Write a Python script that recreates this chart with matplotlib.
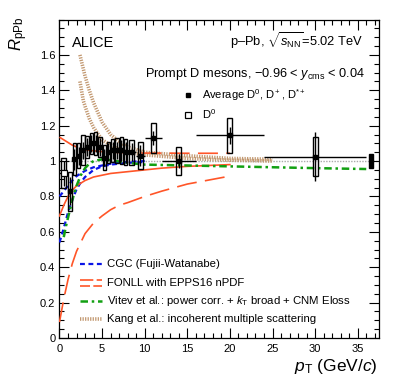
import numpy as np
import matplotlib
matplotlib.use("Agg")
import matplotlib.pyplot as plt
from matplotlib.patches import Rectangle
from matplotlib.ticker import MultipleLocator

plt.rcParams['font.family'] = ['Liberation Sans', 'DejaVu Sans']
plt.rcParams['mathtext.fontset'] = 'custom'
plt.rcParams['mathtext.rm'] = 'Liberation Sans'
plt.rcParams['mathtext.it'] = 'Liberation Sans:italic'
plt.rcParams['mathtext.bf'] = 'Liberation Sans:bold'

# ---------------- data ----------------
# Average D0, D+, D*+
avg_lo = [1, 1.5, 2, 2.5, 3, 3.5, 4, 4.5, 5, 5.5, 6, 6.5, 7, 7.5, 8, 9, 10, 12, 16, 24]
avg_hi = [1.5, 2, 2.5, 3, 3.5, 4, 4.5, 5, 5.5, 6, 6.5, 7, 7.5, 8, 9, 10, 12, 16, 24, 36]
avg_r = [0.83, 1.01, 1.03, 1.06, 1.08, 1.10, 1.10, 1.08, 1.02, 1.05, 1.06, 1.06, 1.06,
         1.05, 1.05, 1.03, 1.13, 1.00, 1.145, 1.025]
avg_stat = [0.08, 0.06, 0.05, 0.05, 0.05, 0.05, 0.05, 0.05, 0.05, 0.05, 0.05, 0.05, 0.06,
            0.06, 0.05, 0.06, 0.04, 0.04, 0.05, 0.14]
avg_syst = [0.11, 0.09, 0.07, 0.085, 0.06, 0.06, 0.065, 0.055, 0.07, 0.06, 0.065, 0.07,
            0.075, 0.075, 0.07, 0.075, 0.085, 0.08, 0.10, 0.11]
# D0 only
d0_lo = [0]
d0_hi = [1]
d0_r = [0.93]
d0_stat = [0.07]
d0_syst = [0.085]
norm_unc = 0.04

# Models
cgc_pt = [0, 0.25, 0.5, 1, 1.5, 2, 2.5, 3, 4, 5, 6, 8, 10]
cgc_up = [0.80, 0.815, 0.83, 0.86, 0.89, 0.915, 0.93, 0.945, 0.965, 0.975, 0.985, 0.995, 1.0]
cgc_lo = [0.54, 0.58, 0.62, 0.71, 0.78, 0.84, 0.88, 0.91, 0.95, 0.97, 0.98, 0.99, 0.995]

fonll_pt = [0, 0.5, 1, 1.5, 2, 3, 4, 5, 6, 7, 8, 10, 12, 15, 20]
fonll_up = [1.135, 1.12, 1.105, 1.09, 1.08, 1.065, 1.058, 1.053, 1.05, 1.048, 1.047, 1.045,
            1.045, 1.044, 1.044]
fonll_c = [0.69, 0.75, 0.80, 0.835, 0.86, 0.89, 0.91, 0.92, 0.93, 0.935, 0.94, 0.95, 0.96,
           0.97, 0.98]
fonll_lo = [0.09, 0.22, 0.33, 0.42, 0.49, 0.59, 0.65, 0.69, 0.725, 0.75, 0.765, 0.80, 0.83,
            0.87, 0.915]

vitev_pt = [0.5, 0.75, 1, 1.5, 2, 2.5, 3, 3.5, 4, 5, 6, 8, 10, 15, 20, 30, 36]
vitev_r = [0.57, 0.63, 0.68, 0.78, 0.86, 0.92, 0.96, 0.985, 1.0, 1.01, 1.005, 0.99, 0.98,
           0.975, 0.97, 0.96, 0.955]

kang_pt = [2.4, 2.8, 3, 3.5, 4, 5, 6, 7, 8, 10, 15, 20, 25]
kang_up = [1.60, 1.52, 1.48, 1.40, 1.33, 1.22, 1.15, 1.11, 1.08, 1.05, 1.03, 1.015, 1.01]
kang_lo = [1.45, 1.34, 1.31, 1.24, 1.19, 1.12, 1.09, 1.065, 1.05, 1.035, 1.015, 1.005, 1.0]

# ---------------- figure ----------------
fig = plt.figure(figsize=(3.99, 3.87), dpi=100)
ax = fig.add_axes([0.1491, 0.1266, 0.8008, 0.823])
ax.set_xlim(0, 37.5)
ax.set_ylim(0, 1.8)

ax.axhline(1.0, color='#aaaaaa', lw=1.0, ls=(0, (1, 1)), zorder=1)

c_cgc = '#0a14e6'
c_fonll = '#ff5528'
c_vitev = '#12a012'
c_kang = '#c29870'

ax.plot(cgc_pt, cgc_up, color=c_cgc, lw=1.6, dashes=(2.2, 1.6), zorder=3)
ax.plot(cgc_pt, cgc_lo, color=c_cgc, lw=1.6, dashes=(2.2, 1.6), zorder=3)
ax.plot(fonll_pt, fonll_up, color=c_fonll, lw=1.2, dashes=(12, 5), zorder=3)
ax.plot(fonll_pt, fonll_c, color=c_fonll, lw=1.2, zorder=3)
ax.plot(fonll_pt, fonll_lo, color=c_fonll, lw=1.2, dashes=(12, 5), zorder=3)
ax.plot(vitev_pt, vitev_r, color=c_vitev, lw=1.8, dashes=(3, 1.5, 1, 1.5), zorder=3)
ax.plot(kang_pt, kang_up, color=c_kang, lw=2.6, dashes=(0.35, 0.35), zorder=2)
ax.plot(kang_pt, kang_lo, color=c_kang, lw=2.6, dashes=(0.35, 0.35), zorder=2)


def draw_points(lo, hi, r, stat, syst, filled):
    lo = np.asarray(lo, float)
    hi = np.asarray(hi, float)
    r = np.asarray(r, float)
    x = 0.5 * (lo + hi)
    for xi, l, h, ri, s in zip(x, lo, hi, r, syst):
        w = min(0.6, 0.8 * (h - l))
        ax.add_patch(Rectangle((xi - w / 2, ri - s), w, 2 * s, fill=False,
                               edgecolor='black', lw=1.0, zorder=4))
    ax.errorbar(x, r, yerr=stat, xerr=[x - lo, hi - x], fmt='none', ecolor='black',
                elinewidth=1.0, capsize=0, zorder=5)
    if filled:
        ax.plot(x, r, 's', color='black', ms=3.5, zorder=6)
    else:
        ax.plot(x, r, 's', mfc='white', mec='black', mew=0.9, ms=3.8, zorder=6)


draw_points(avg_lo, avg_hi, avg_r, avg_stat, avg_syst, True)
draw_points(d0_lo, d0_hi, d0_r, d0_stat, d0_syst, False)

ax.add_patch(Rectangle((36.3, 1 - norm_unc), 0.55, 2 * norm_unc, facecolor='black',
                       edgecolor='black', zorder=6))

# ticks
ax.xaxis.set_major_locator(MultipleLocator(5))
ax.xaxis.set_minor_locator(MultipleLocator(1))
ax.yaxis.set_major_locator(MultipleLocator(0.2))
ax.yaxis.set_minor_locator(MultipleLocator(0.05))
ax.tick_params(which='both', direction='in', top=True, right=True, labelsize=8)
ax.tick_params(which='major', length=7, width=0.8)
ax.tick_params(which='minor', length=3.5, width=0.8)
ax.tick_params(axis='x', pad=4)
ax.tick_params(axis='y', pad=3)
ax.set_yticks([0, 0.2, 0.4, 0.6, 0.8, 1.0, 1.2, 1.4, 1.6])
ax.set_yticklabels(['0', '0.2', '0.4', '0.6', '0.8', '1', '1.2', '1.4', '1.6'])
for s in ax.spines.values():
    s.set_linewidth(0.9)

fig.text(378 / 399, 1 - 367 / 387, r'$p_{\rm T}$ (GeV/$c$)', ha='right', va='center',
         fontsize=12.5)
fig.text(19 / 399, 1 - 17 / 387, r'$R_{\rm pPb}$', rotation=90, ha='center', va='top',
         fontsize=12)

ax.text(0.038, 0.915, 'ALICE', transform=ax.transAxes, fontsize=10.5, va='baseline')
ax.text(0.951, 0.917, r'p–Pb, $\sqrt{s_{\rm NN}}$=5.02 TeV', transform=ax.transAxes,
        fontsize=9.3, ha='right', va='baseline')
ax.text(0.956, 0.8195, r'Prompt D mesons, $-$0.96 < $y_{\rm cms}$ < 0.04',
        transform=ax.transAxes, fontsize=9.2, ha='right', va='baseline')

ax.plot([0.403], [0.763], 's', color='black', ms=3.5, transform=ax.transAxes)
ax.text(0.445, 0.749, r'Average D$^0$, D$^+$, D$^{*+}$', transform=ax.transAxes,
        fontsize=8.0, va='baseline')
ax.plot([0.403], [0.701], 's', mfc='white', mec='black', mew=0.9, ms=3.8,
        transform=ax.transAxes)
ax.text(0.445, 0.687, r'D$^0$', transform=ax.transAxes, fontsize=8.0, va='baseline')

# model legend
lx0, lx1, tx = 0.064, 0.132, 0.148
rows = [0.2314, 0.1736, 0.1162, 0.0587]
ax.plot([lx0, lx1], [rows[0]] * 2, color=c_cgc, lw=1.6, dashes=(2.2, 1.6),
        transform=ax.transAxes)
ax.plot([lx0, lx1], [rows[1] + 0.009] * 2, color=c_fonll, lw=1.2, dashes=(8, 2),
        transform=ax.transAxes)
ax.plot([lx0, lx1], [rows[1] - 0.009] * 2, color=c_fonll, lw=1.2, dashes=(6, 2),
        transform=ax.transAxes)
ax.plot([lx0, lx1], [rows[2]] * 2, color=c_vitev, lw=1.8, dashes=(3, 1.5, 1, 1.5),
        transform=ax.transAxes)
ax.plot([lx0, lx1], [rows[3]] * 2, color=c_kang, lw=2.6, dashes=(0.35, 0.35),
        transform=ax.transAxes)
labels = ['CGC (Fujii-Watanabe)', 'FONLL with EPPS16 nPDF',
          r'Vitev et al.: power corr. + $k_{\rm T}$ broad + CNM Eloss',
          'Kang et al.: incoherent multiple scattering']
for y, t in zip(rows, labels):
    ax.text(tx, y, t, transform=ax.transAxes, fontsize=8.2, va='center')

fig.savefig('out.png', dpi=100)
